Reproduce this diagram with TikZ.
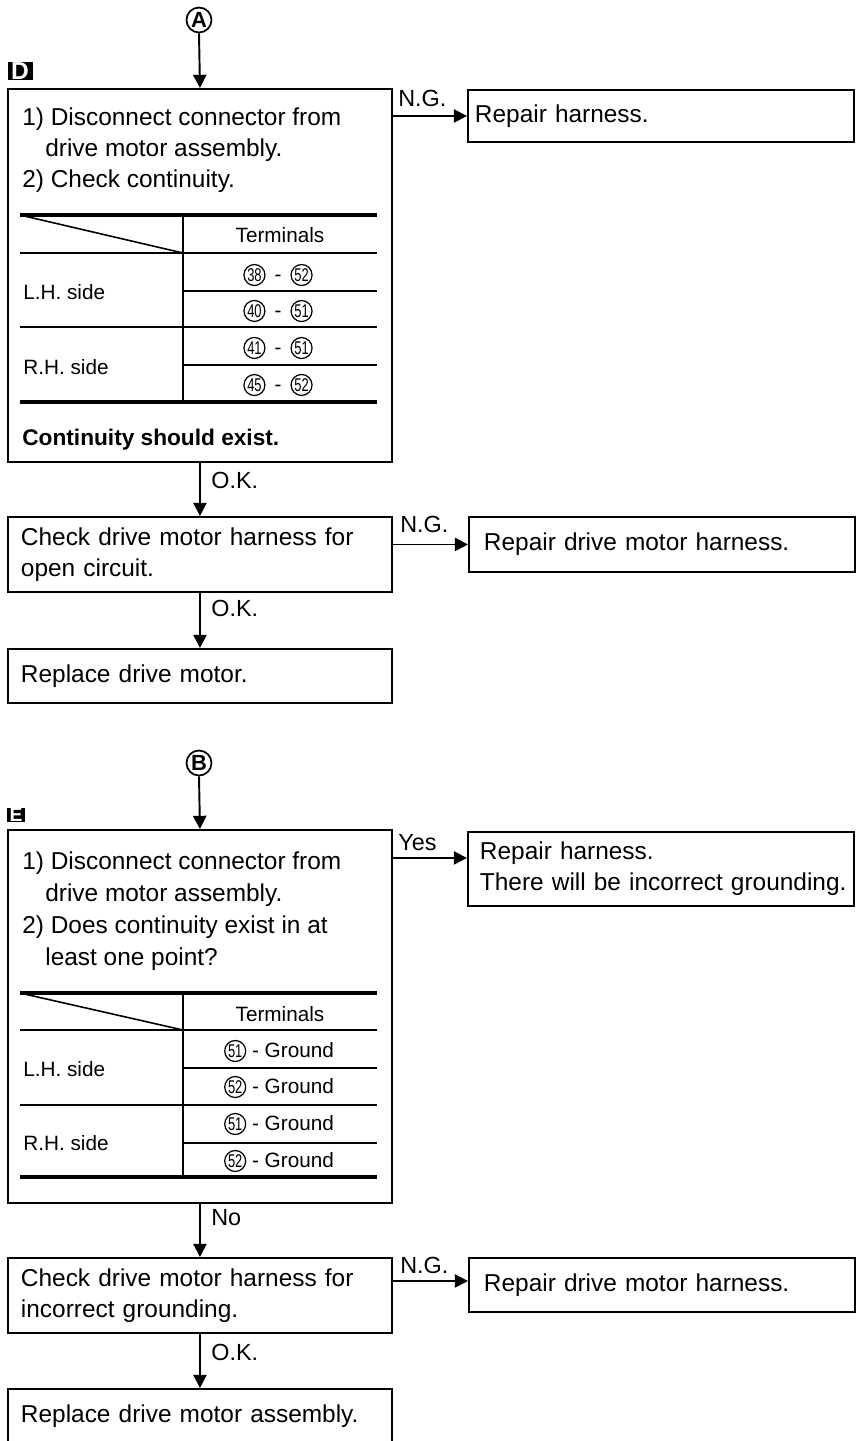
\documentclass[tikz,border=0pt]{standalone}
\usepackage{fontspec}
\setmainfont{Liberation Sans}
\usetikzlibrary{arrows.meta,positioning}

\newdimen\pxu \pxu=0.02cm
\newcommand{\body}{\fontsize{13.9}{17.6}\selectfont}
\newcommand{\cellfont}{\fontsize{11.8}{13}\selectfont}
\newcommand{\tnum}[1]{\tikz[baseline=(tn.base)]\node[circle,draw=black,line width=0.7pt,minimum size=21\pxu,inner sep=0pt,font=\fontsize{10.5}{10.5}\selectfont] (tn) {\scalebox{0.7}[1]{#1}};}
\newcommand{\tdash}{\hspace{9\pxu}-\hspace{9\pxu}}

\begin{document}
\begin{tikzpicture}[x=0.02cm,y=-0.02cm]
\tikzset{
  stepbox/.style={draw=black,line width=1.1pt,anchor=north west,minimum width=384\pxu,text width=358\pxu,inner xsep=13\pxu,align=left,font=\body},
  fixbox/.style={draw=black,line width=1.1pt,anchor=north west,minimum width=386\pxu,text width=372\pxu,inner xsep=7\pxu,align=left,font=\body},
  flow/.style={draw=black,line width=1.1pt,-{Triangle[length=7.5pt,width=7.5pt]}},
  branch/.style={anchor=west,inner sep=0pt,font=\fontsize{13.3}{13}\selectfont},
  txt/.style={anchor=base west,inner sep=0pt,font=\body},
  cell/.style={inner sep=0pt,font=\cellfont},
  linkmark/.style={circle,draw=black,line width=1pt,minimum size=25\pxu,inner sep=0pt,font=\bfseries\fontsize{12.5}{12}\selectfont},
  tag/.style={fill=black,text=white,inner sep=0pt},
  rule/.style={draw=black,line width=2pt},
  hair/.style={draw=black,line width=0.9pt}
}
\useasboundingbox (0,0) rectangle (858,1441);

% ---- block D
\node[linkmark] (markA) at (199,20) {A};
\node[tag,minimum width=25\pxu,minimum height=18\pxu,font=\bfseries\fontsize{14}{14}\selectfont] (tagD) at (20,71) {D};
\node[stepbox,minimum height=373\pxu] (chkD) at (7,88) {};
\node[txt] (d1) at (22,125) {1)~Disconnect connector from};
\node[txt] (d2) at (45,156) {drive motor assembly.};
\node[txt] (d3) at (22,187) {2)~Check continuity.};
\draw[rule] (20,215) -- (377,215);
\draw[hair] (20,215) -- (183,253);
\draw[hair] (20,253) -- (377,253);
\draw[hair] (183,291) -- (377,291);
\draw[hair] (20,327) -- (377,327);
\draw[hair] (183,365) -- (377,365);
\draw[rule] (20,402) -- (377,402);
\draw[hair] (183,215) -- (183,402);
\node[cell] (termD) at (280,235) {Terminals};
\node[cell] (dr1) at (278,275) {\tnum{38}\tdash\tnum{52}};
\node[cell] (dr2) at (278,311) {\tnum{40}\tdash\tnum{51}};
\node[cell] (dr3) at (278,348) {\tnum{41}\tdash\tnum{51}};
\node[cell] (dr4) at (278,385) {\tnum{45}\tdash\tnum{52}};
\node[cell,anchor=west] (lhD) at (23,292) {L.H. side};
\node[cell,anchor=west] (rhD) at (23,367) {R.H. side};
\node[txt,font=\bfseries\fontsize{12.9}{15}\selectfont] (contD) at (22,445) {Continuity should exist.};
\node[fixbox,minimum height=52\pxu] (repD) at (467,89) {Repair harness.};
\node[stepbox,minimum height=75\pxu] (harnD) at (7,516) {Check drive motor harness for\\open circuit.};
\node[fixbox,minimum height=55\pxu] (rwD) at (468,516) {\hspace*{8\pxu}Repair drive motor harness.};
\node[stepbox,minimum height=54\pxu] (motD) at (7,648) {Replace drive motor.};
\draw[flow] (markA.south) -- (chkD.north);
\draw[flow] (repD.west -| chkD.east) -- (repD.west);
\draw[flow] (chkD.south) -- (harnD.north);
\draw[flow] (rwD.west -| harnD.east) -- (rwD.west);
\draw[flow] (harnD.south) -- (motD.north);
\node[branch] (ngD1) at (398,98) {N.G.};
\node[branch] (okD1) at (211,480) {O.K.};
\node[branch] (ngD2) at (400,524) {N.G.};
\node[branch] (okD2) at (211,608) {O.K.};

% ---- block E
\node[linkmark] (markB) at (199,763) {B};
\node[tag,minimum width=18\pxu,minimum height=14\pxu,font=\bfseries\fontsize{11}{11}\selectfont] (tagE) at (16,815) {E};
\node[stepbox,minimum height=373\pxu] (chkE) at (7,829) {};
\node[txt] (e1) at (22,869) {1)~Disconnect connector from};
\node[txt] (e2) at (45,901) {drive motor assembly.};
\node[txt] (e3) at (22,933) {2)~Does continuity exist in at};
\node[txt] (e4) at (45,965) {least one point?};
\draw[rule] (20,993) -- (377,993);
\draw[hair] (20,993) -- (183,1030);
\draw[hair] (20,1030) -- (377,1030);
\draw[hair] (183,1068) -- (377,1068);
\draw[hair] (20,1105) -- (377,1105);
\draw[hair] (183,1143) -- (377,1143);
\draw[rule] (20,1177) -- (377,1177);
\draw[hair] (183,993) -- (183,1177);
\node[cell] (termE) at (280,1014) {Terminals};
\node[cell] (er1) at (279,1051) {\tnum{51} - Ground};
\node[cell] (er2) at (279,1087) {\tnum{52} - Ground};
\node[cell] (er3) at (279,1124) {\tnum{51} - Ground};
\node[cell] (er4) at (279,1161) {\tnum{52} - Ground};
\node[cell,anchor=west] (lhE) at (23,1069) {L.H. side};
\node[cell,anchor=west] (rhE) at (23,1143) {R.H. side};
\node[fixbox,minimum height=74\pxu] (repE) at (467,831) {\hspace*{5\pxu}Repair harness.\\\hspace*{5\pxu}There will be incorrect grounding.};
\node[stepbox,minimum height=75\pxu] (harnE) at (7,1257) {Check drive motor harness for\\incorrect grounding.};
\node[fixbox,minimum height=54\pxu] (rwE) at (468,1257) {\hspace*{8\pxu}Repair drive motor harness.};
\node[stepbox,minimum height=54\pxu] (asmE) at (7,1388) {Replace drive motor assembly.};
\draw[flow] (markB.south) -- (chkE.north);
\draw[flow] ([yshift=11\pxu]repE.west -| chkE.east) -- ([yshift=11\pxu]repE.west);
\draw[flow] (chkE.south) -- (harnE.north);
\draw[flow] ([yshift=4\pxu]rwE.west -| harnE.east) -- ([yshift=4\pxu]rwE.west);
\draw[flow] (harnE.south) -- (asmE.north);
\node[branch] (yesE) at (398,843) {Yes};
\node[branch] (noE) at (211,1218) {No};
\node[branch] (ngE) at (400,1265) {N.G.};
\node[branch] (okE) at (211,1352) {O.K.};
\end{tikzpicture}
\end{document}
